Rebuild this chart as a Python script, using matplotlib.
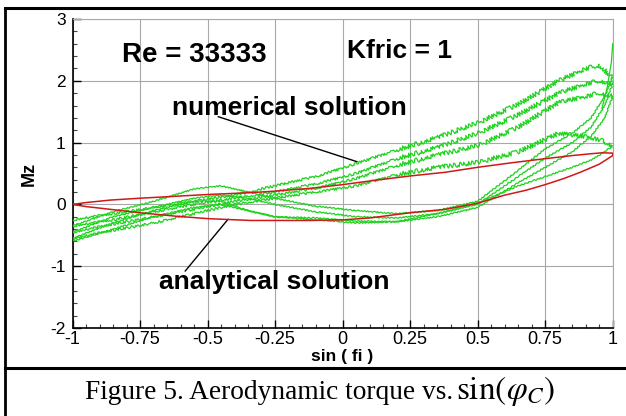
import matplotlib
matplotlib.use("Agg")
import matplotlib.pyplot as plt
from matplotlib.lines import Line2D
from matplotlib.ticker import MultipleLocator

# ---------------- data ----------------
x_ticks = [-1, -0.75, -0.5, -0.25, 0, 0.25, 0.5, 0.75, 1]
x_tick_labels = ["-1", "-0.75", "-0.5", "-0.25", "0", "0.25", "0.5", "0.75", "1"]
y_ticks = [-2, -1, 0, 1, 2, 3]
y_tick_labels = ["-2", "-1", "0", "1", "2", "3"]

# analytical solution (red closed loop)
ana_up_x = [-1, -0.95, -0.86, -0.75, -0.5, -0.34, -0.25, -0.12, 0, 0.12, 0.25, 0.38, 0.5, 0.62, 0.75, 0.85, 0.92, 0.96, 1]
ana_up_y = [0, 0.03, 0.07, 0.1, 0.16, 0.19, 0.215, 0.26, 0.32, 0.39, 0.46, 0.52, 0.6, 0.67, 0.74, 0.79, 0.82, 0.835, 0.83]
ana_lo_x = [1, 0.95, 0.88, 0.82, 0.75, 0.68, 0.6, 0.5, 0.38, 0.25, 0.1, 0, -0.12, -0.25, -0.34, -0.5, -0.62, -0.75, -0.86, -0.95, -1]
ana_lo_y = [0.79, 0.65, 0.52, 0.42, 0.32, 0.23, 0.15, 0.02, -0.08, -0.135, -0.22, -0.25, -0.26, -0.26, -0.26, -0.23, -0.19, -0.135, -0.08, -0.035, 0]

# numerical solution (green, noisy loops): rising branches
num_up_x = [-1, -0.85, -0.7, -0.55, -0.4, -0.25, -0.1, 0.05, 0.2, 0.35, 0.5, 0.65, 0.8, 0.9, 0.95, 1.0]
num_up_1 = [-0.25, -0.15, -0.05, 0.05, 0.15, 0.3, 0.45, 0.66, 0.88, 1.08, 1.32, 1.62, 2.0, 2.2, 2.25, 2.05]
num_up_2 = [-0.35, -0.25, -0.12, 0.0, 0.1, 0.2, 0.33, 0.5, 0.74, 0.92, 1.15, 1.45, 1.8, 1.95, 2.0, 1.95]
num_up_3 = [-0.45, -0.32, -0.2, -0.08, 0.05, 0.15, 0.26, 0.42, 0.63, 0.8, 0.95, 1.25, 1.65, 1.75, 1.8, 1.75]
num_up_4 = [-0.55, -0.42, -0.3, -0.15, 0.0, 0.1, 0.2, 0.3, 0.48, 0.6, 0.68, 0.85, 1.15, 1.1, 1.05, 0.95]

# returning branches
num_lo_x = [1.0, 0.97, 0.92, 0.85, 0.75, 0.65, 0.5, 0.35, 0.2, 0.05, -0.1, -0.25, -0.35, -0.45, -0.55, -0.7, -0.85, -1.0]
num_lo_1 = [2.05, 1.75, 1.4, 1.15, 0.9, 0.55, 0.05, -0.1, -0.15, -0.1, -0.03, 0.1, 0.2, 0.3, 0.25, 0.05, -0.12, -0.35]
num_lo_2 = [1.95, 1.6, 1.25, 1.0, 0.75, 0.45, 0.0, -0.15, -0.22, -0.2, -0.12, 0.0, 0.1, 0.15, 0.1, -0.05, -0.2, -0.45]
num_lo_3 = [1.75, 1.4, 1.1, 0.85, 0.6, 0.35, -0.05, -0.2, -0.28, -0.27, -0.22, -0.2, -0.1, 0.05, 0.05, -0.1, -0.3, -0.55]
num_lo_4 = [0.95, 0.85, 0.72, 0.6, 0.45, 0.3, 0.02, -0.15, -0.28, -0.3, -0.25, -0.2, -0.1, 0.0, -0.05, -0.2, -0.4, -0.6]

spike_x = [0.96, 0.98, 0.995, 1.0]
spike_y = [1.55, 1.9, 2.3, 2.6]

# ---------------- figure ----------------
W, H = 626, 416
fig = plt.figure(figsize=(W / 100, H / 100), dpi=100)
fig.patch.set_facecolor("white")
plt.rcParams["mathtext.fontset"] = "stix"

def fx(px):
    return px / W

def fy(py):
    return 1 - py / H

ax = fig.add_axes([fx(72.5), fy(328), 540.2 / W, 309 / H])
ax.set_xlim(-1, 1)
ax.set_ylim(-2, 3)

green = "#1ed21e"
red = "#d01818"

split = 8  # index where the rising branches become noisier
ups = [num_up_1, num_up_2, num_up_3, num_up_4]
los = [num_lo_1, num_lo_2, num_lo_3, num_lo_4]
for u in ups:
    ln, = ax.plot(num_up_x[:split + 1], u[:split + 1], color=green, lw=0.9, zorder=3)
    ln.set_sketch_params(scale=1.2, length=2.5, randomness=3)
    ln, = ax.plot(num_up_x[split:], u[split:], color=green, lw=0.9, zorder=3)
    ln.set_sketch_params(scale=2.2, length=2.0, randomness=3)
for l in los:
    ln, = ax.plot(num_lo_x, l, color=green, lw=0.9, zorder=3)
    ln.set_sketch_params(scale=0.6, length=4, randomness=2)
ln, = ax.plot(spike_x, spike_y, color=green, lw=0.9, zorder=3)

ax.plot(ana_up_x + ana_lo_x, ana_up_y + ana_lo_y, color=red, lw=1.1, zorder=4)

# ticks / grid
ax.set_xticks(x_ticks)
ax.set_xticklabels(x_tick_labels)
ax.set_yticks(y_ticks)
ax.set_yticklabels(y_tick_labels)
ax.xaxis.set_minor_locator(MultipleLocator(0.05))
ax.yaxis.set_minor_locator(MultipleLocator(0.2))
ax.tick_params(which="major", direction="in", length=6, width=1.0, color="black",
               top=False, right=False)
ax.tick_params(which="minor", direction="in", length=3, width=0.8, color="#444444",
               top=False, right=False)
ax.tick_params(axis="x", which="major", pad=2.5, labelsize=13)
ax.tick_params(axis="y", which="major", pad=5, labelsize=12.5)
for lab in ax.get_xticklabels() + ax.get_yticklabels():
    lab.set_family("Liberation Sans")
ax.grid(True, which="major", color="#a8a8a8", lw=0.8)
ax.set_axisbelow(True)
for s in ["left", "bottom"]:
    ax.spines[s].set_color("black")
    ax.spines[s].set_linewidth(1.2)
for s in ["top", "right"]:
    ax.spines[s].set_color("#a8a8a8")
    ax.spines[s].set_linewidth(0.8)

ax.set_ylabel("Mz", fontsize=13, fontweight="bold", family="Liberation Sans", labelpad=9)
ax.set_xlabel("sin ( fi )", fontsize=12.5, fontweight="bold", family="Liberation Sans", labelpad=0.5)

# text labels inside the plot
tkw = dict(fontweight="bold", family="Liberation Sans", va="baseline", ha="center", zorder=6)
ax.text(-0.55, 2.31, "Re = 33333", fontsize=20, **tkw)
ax.text(0.21, 2.37, "Kfric = 1", fontsize=19, **tkw)
ax.text(-0.196, 1.45, "numerical solution", fontsize=19, **tkw)
ax.text(-0.252, -1.37, "analytical solution", fontsize=19, **tkw)
ax.annotate("", xy=(0.054, 0.69), xytext=(-0.461, 1.42),
            arrowprops=dict(arrowstyle="-", color="black", lw=1.0, shrinkA=0, shrinkB=0))
ax.annotate("", xy=(-0.424, -0.24), xytext=(-0.583, -1.08),
            arrowprops=dict(arrowstyle="-", color="black", lw=1.0, shrinkA=0, shrinkB=0))

# frame and separator
fig.add_artist(Line2D([fx(5), fx(5)], [fy(8), 0], transform=fig.transFigure, color="black", lw=2.0))
fig.add_artist(Line2D([fx(5), 1], [fy(8), fy(8)], transform=fig.transFigure, color="black", lw=2.2))
fig.add_artist(Line2D([fx(5), 1], [fy(368), fy(368)], transform=fig.transFigure, color="black", lw=2.2))

# caption
fig.text(fx(85), fy(399), "Figure 5. Aerodynamic torque vs.", fontsize=19.7,
         family="Liberation Serif", ha="left", va="baseline")
fig.text(fx(456), fy(399), r"$\mathrm{sin}(\varphi_C)$", fontsize=24,
         ha="left", va="baseline")

fig.savefig("out.png", dpi=100)
